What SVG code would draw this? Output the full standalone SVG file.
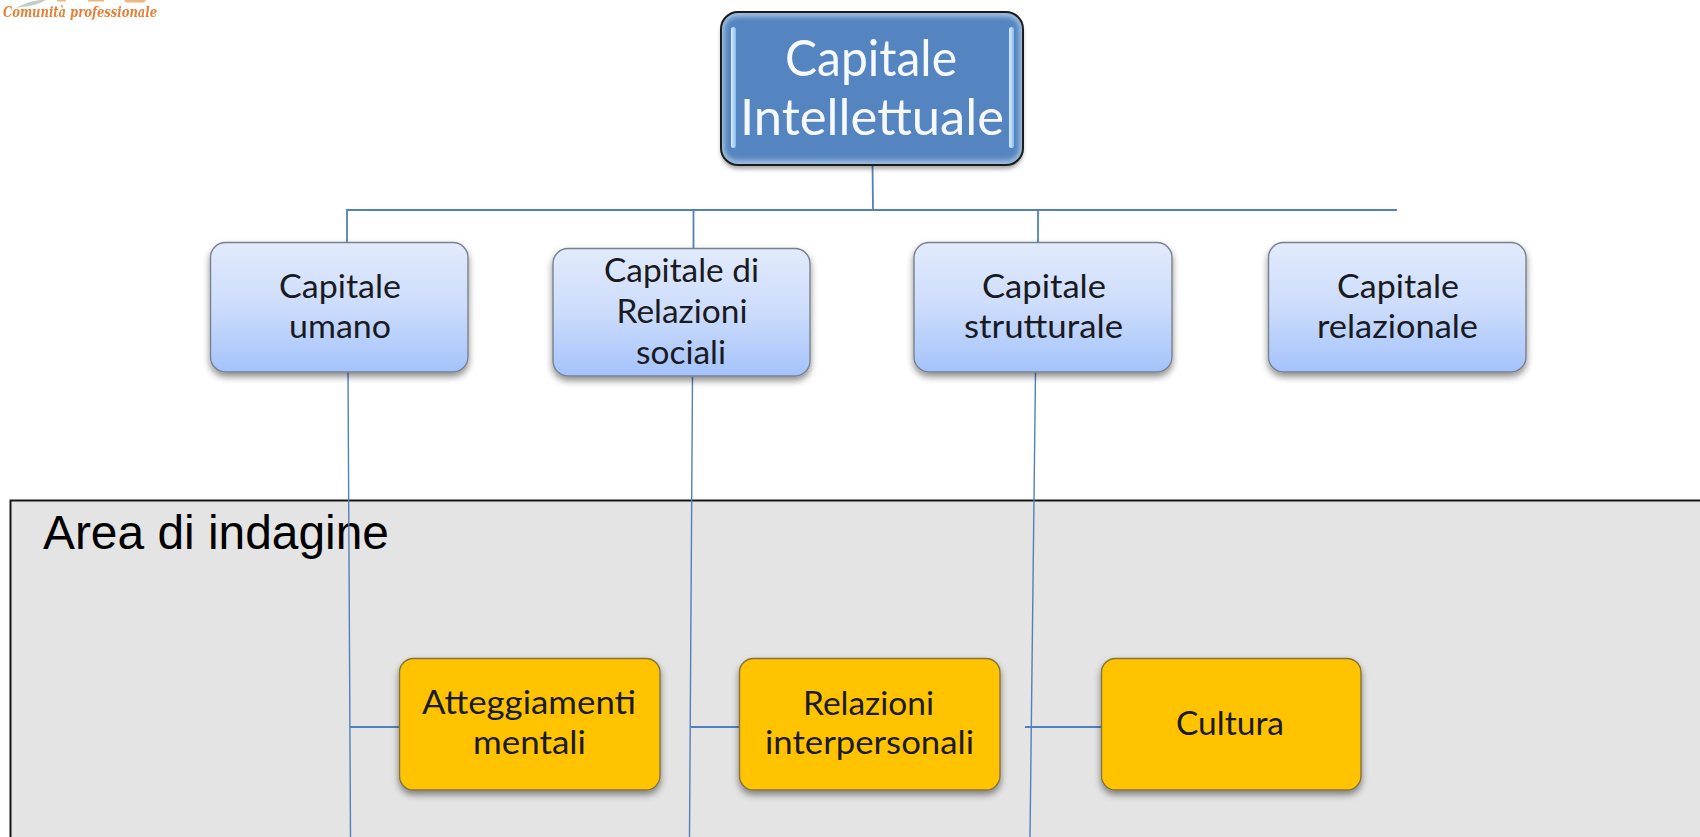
<svg xmlns="http://www.w3.org/2000/svg" width="1700" height="837" viewBox="0 0 1700 837">
<style>
text{text-anchor:start;font-family:Lato,"Open Sans",sans-serif}
.c{fill:none;stroke:#4f81bd;stroke-width:1.8}
.v{fill:none;stroke:#4f81bd;stroke-width:1.4}
.l2 rect.b{fill:url(#blue);stroke:#77808c;stroke-width:1.4;filter:url(#sh)}
.l3 rect.b{fill:#ffc300;stroke:#84733c;stroke-width:1.4;filter:url(#sh)}
.l2 text,.l3 text{font-size:32.5px;fill:#1a1a22}
.l1 text{font-size:51px;fill:#f6f9fc}
</style>
<defs>
<linearGradient id="blue" x1="0" y1="0" x2="0" y2="1"><stop offset="0" stop-color="#e2ebfc"/><stop offset="0.5" stop-color="#ccdcfb"/><stop offset="1" stop-color="#a4c3fb"/></linearGradient>
<linearGradient id="bar" x1="0" y1="0" x2="1" y2="0"><stop offset="0" stop-color="#d9eeff"/><stop offset="0.6" stop-color="#a9d2f7"/><stop offset="1" stop-color="#8cb8e6"/></linearGradient>
<filter id="sh" x="-10%" y="-10%" width="120%" height="125%"><feDropShadow dx="0" dy="4" stdDeviation="3.5" flood-color="#000" flood-opacity="0.45"/></filter>
<filter id="blur" x="-20%" y="-20%" width="140%" height="140%"><feGaussianBlur stdDeviation="2"/></filter>
<filter id="soft"><feGaussianBlur stdDeviation="0.6"/></filter>
</defs>
<rect width="1700" height="837" fill="#fff"/>

<g id="logo">
<path d="M16 8Q28 1 40 0L46 0Q36 6 22 7Z" fill="#c3cdc9" filter="url(#soft)"/>
<path d="M57 0H66V1.5H57ZM88 0H104V1.5H88ZM124 0H146L144 2.5H126Z" fill="#f0b47e" filter="url(#soft)"/>
<text x="3" y="17" font-size="14" font-style="italic" font-weight="700" textLength="154" lengthAdjust="spacingAndGlyphs" style="font-family:'DejaVu Serif',serif;fill:#e5813a" filter="url(#soft)">Comunità professionale</text>
</g>

<g id="panel">
<rect x="10.5" y="500.5" width="1700" height="360" fill="#e4e4e4" stroke="#161616" stroke-width="2"/>
<text x="43" y="548.5" font-size="47.7" textLength="346" lengthAdjust="spacingAndGlyphs" style="font-family:'Liberation Sans',Arial,sans-serif;fill:#000">Area di indagine</text>
</g>

<g id="connectors">
<path class="c" d="M872.5 165L873 210M347 242V210H1397M693.5 210V248M1038 210V242"/>
<path class="v" d="M348 372L350.5 837M692.5 376L689.5 837M1035.5 372L1030 837"/>
<path class="c" d="M350 727H400M691 727H739M1025 727H1101"/>
</g>

<g id="node-capitale-intellettuale" class="l1">
<rect x="721" y="12" width="302" height="153" rx="17" fill="#000" opacity="0.35" transform="translate(0 4)" filter="url(#blur)"/>
<rect x="721" y="12" width="302" height="153" rx="17" fill="#9dbbdc" stroke="#1b1b1b" stroke-width="2"/>
<rect x="725" y="17" width="294" height="143" rx="12" fill="#5585c0" filter="url(#blur)"/>
<rect x="731" y="27" width="5" height="121" rx="2.5" fill="url(#bar)"/>
<rect x="1009" y="27" width="5" height="121" rx="2.5" fill="url(#bar)"/>
<text x="785" y="76" textLength="172" lengthAdjust="spacingAndGlyphs">Capitale</text>
<text x="740" y="135" textLength="264" lengthAdjust="spacingAndGlyphs">Intellettuale</text>
</g>

<g id="node-capitale-umano" class="l2">
<rect class="b" x="210.5" y="242.5" width="257.5" height="129.5" rx="15"/>
<text x="279" y="298" textLength="122" lengthAdjust="spacingAndGlyphs">Capitale</text>
<text x="289" y="338" textLength="102" lengthAdjust="spacingAndGlyphs">umano</text>
</g>

<g id="node-capitale-relazioni-sociali" class="l2">
<rect class="b" x="553" y="248.5" width="257" height="127.5" rx="15"/>
<text x="604" y="282" textLength="155" lengthAdjust="spacingAndGlyphs">Capitale di</text>
<text x="616.5" y="323" textLength="131" lengthAdjust="spacingAndGlyphs">Relazioni</text>
<text x="636" y="364" textLength="90" lengthAdjust="spacingAndGlyphs">sociali</text>
</g>

<g id="node-capitale-strutturale" class="l2">
<rect class="b" x="914" y="242.5" width="258" height="129.5" rx="15"/>
<text x="982" y="298" textLength="124" lengthAdjust="spacingAndGlyphs">Capitale</text>
<text x="964" y="338" textLength="159" lengthAdjust="spacingAndGlyphs">strutturale</text>
</g>

<g id="node-capitale-relazionale" class="l2">
<rect class="b" x="1268.5" y="242.5" width="257.5" height="129.5" rx="15"/>
<text x="1337" y="298" textLength="122" lengthAdjust="spacingAndGlyphs">Capitale</text>
<text x="1317" y="338" textLength="161" lengthAdjust="spacingAndGlyphs">relazionale</text>
</g>

<g id="node-atteggiamenti-mentali" class="l3">
<rect class="b" x="399.5" y="658.5" width="260.5" height="131.5" rx="14"/>
<text x="422" y="714" textLength="214" lengthAdjust="spacingAndGlyphs">Atteggiamenti</text>
<text x="473" y="754" textLength="113" lengthAdjust="spacingAndGlyphs">mentali</text>
</g>

<g id="node-relazioni-interpersonali" class="l3">
<rect class="b" x="739.5" y="658.5" width="260.5" height="131.5" rx="14"/>
<text x="803" y="715" textLength="131" lengthAdjust="spacingAndGlyphs">Relazioni</text>
<text x="765" y="754" textLength="209" lengthAdjust="spacingAndGlyphs">interpersonali</text>
</g>

<g id="node-cultura" class="l3">
<rect class="b" x="1101.5" y="658.5" width="259.5" height="131.5" rx="14"/>
<text x="1176" y="735" textLength="108" lengthAdjust="spacingAndGlyphs">Cultura</text>
</g>
</svg>
